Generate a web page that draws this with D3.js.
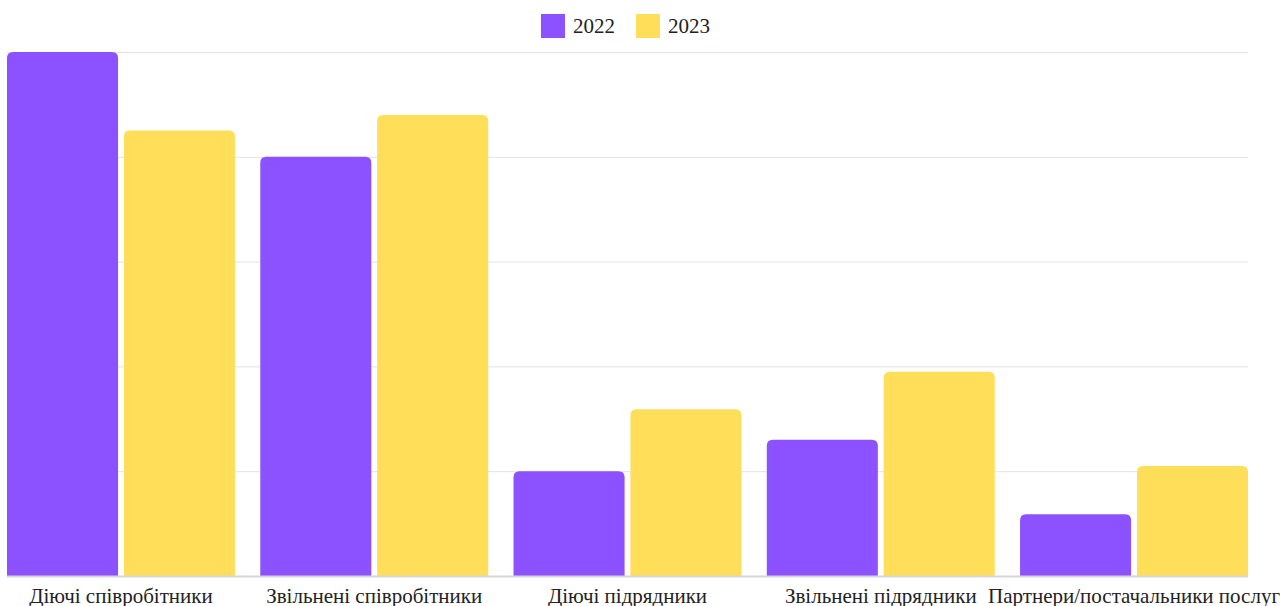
<!DOCTYPE html>
<html>
<head>
<meta charset="utf-8">
<script src="https://cdn.jsdelivr.net/npm/d3@7"></script>
<style>
  body { margin: 0; background: #fff; }
  text { font-family: "Liberation Serif", "Times New Roman", serif; fill: #222; }
</style>
</head>
<body>
<div id="chart"></div>
<script>
// categories and series
const categories = ["Діючі співробітники", "Звільнені співробітники", "Діючі підрядники", "Звільнені підрядники", "Партнери/постачальники послуг"];
const years = ["2022", "2023"];
const values2022 = [500, 400, 100, 130, 59];
const values2023 = [425, 440, 159, 195, 105];
const colors = ["#8c52ff", "#ffde59"];
const gridTicks = [0, 100, 200, 300, 400, 500];

const width = 1280, height = 606;
const margin = { top: 52, right: 32, bottom: 30, left: 7 };

const svg = d3.select("#chart")
  .append("svg")
  .attr("width", width)
  .attr("height", height);

const x0 = d3.scaleBand()
  .domain(categories)
  .range([margin.left, width - margin.right])
  .paddingInner(0.1)
  .paddingOuter(0);

const x1 = d3.scaleBand()
  .domain(years)
  .range([0, x0.bandwidth()])
  .paddingInner(0.05);

const y = d3.scaleLinear()
  .domain([0, 500])
  .range([height - margin.bottom, margin.top]);

// grid
svg.append("g")
  .selectAll("line")
  .data(gridTicks.slice(1))
  .join("line")
  .attr("x1", margin.left)
  .attr("x2", width - margin.right)
  .attr("y1", d => y(d) + 0.5)
  .attr("y2", d => y(d) + 0.5)
  .attr("stroke", "#e3e3e3");

const rows = categories.map((c, i) => ({ cat: c, vals: [values2022[i], values2023[i]] }));

// rounded top bar path
function barPath(x, yTop, w, yBot, r) {
  r = Math.min(r, (yBot - yTop), w / 2);
  return `M${x},${yBot}V${yTop + r}Q${x},${yTop} ${x + r},${yTop}H${x + w - r}Q${x + w},${yTop} ${x + w},${yTop + r}V${yBot}Z`;
}

svg.append("g")
  .selectAll("g")
  .data(rows)
  .join("g")
  .attr("transform", d => `translate(${x0(d.cat)},0)`)
  .selectAll("path")
  .data(d => d.vals.map((v, i) => ({ year: years[i], v, i })))
  .join("path")
  .attr("fill", d => colors[d.i])
  .attr("d", d => barPath(x1(d.year), y(d.v), x1.bandwidth(), y(0), 6));

// baseline
svg.append("line")
  .attr("x1", margin.left)
  .attr("x2", width - margin.right)
  .attr("y1", y(0) + 0.5)
  .attr("y2", y(0) + 0.5)
  .attr("stroke", "#d6d6d6")
  .attr("stroke-width", 2);

// category labels
svg.append("g")
  .selectAll("text")
  .data(categories)
  .join("text")
  .attr("x", d => x0(d) + x0.bandwidth() / 2)
  .attr("y", 603)
  .attr("text-anchor", "middle")
  .attr("font-size", 21)
  .text(d => d);

// legend
const legend = svg.append("g")
  .selectAll("g")
  .data(years)
  .join("g")
  .attr("transform", (d, i) => `translate(${541 + i * 95},14)`);

legend.append("rect")
  .attr("width", 24)
  .attr("height", 24)
  .attr("fill", (d, i) => colors[i]);

legend.append("text")
  .attr("x", 32)
  .attr("y", 19)
  .attr("font-size", 21)
  .text(d => d);
</script>
</body>
</html>
